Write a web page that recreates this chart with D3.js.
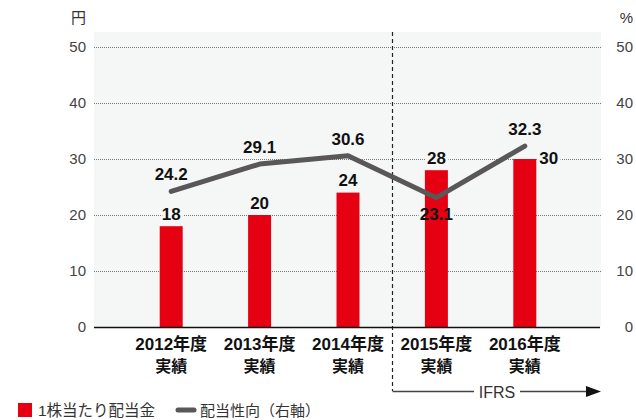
<!DOCTYPE html>
<html>
<head>
<meta charset="utf-8">
<script src="https://cdn.jsdelivr.net/npm/d3@7"></script>
<style>
  html, body { margin: 0; padding: 0; background: #fff; }
  svg { display: block; }
  text { font-family: "Liberation Sans", Arial, "Noto Sans CJK JP", sans-serif; }
</style>
</head>
<body>
<svg id="chart" width="636" height="420"></svg>
<script>
// Fiscal years (two-line labels) and values
const years = ["2012", "2013", "2014", "2015", "2016"];
const yearLine1 = ["2012年度", "2013年度", "2014年度", "2015年度", "2016年度"];
const yearLine2 = ["実績", "実績", "実績", "実績", "実績"];
const dividend = [18, 20, 24, 28, 30];            // 1株当たり配当金（円）
const payoutRatio = [24.2, 29.1, 30.6, 23.1, 32.3]; // 配当性向（%）
const payoutLabelSide = ["above", "above", "above", "below", "above"];
const dividendLabelSide = ["top", "top", "top", "top", "right"];
const yTicks = [0, 10, 20, 30, 40, 50];
const ifrsStart = "2015";

const RED = "#e50012";
const GRAY = "#595757";
const BG = "#f5f7f6";

const svg = d3.select("#chart");
const plot = { left: 94, right: 601, top: 32, bottom: 327 };

const x = d3.scaleBand().domain(years).range([127, 569]).paddingInner(0.74).paddingOuter(0.37);
const yL = d3.scaleLinear().domain([0, 50]).range([327, 47]);
const yR = d3.scaleLinear().domain([0, 50]).range([327, 47]);
const cx = d => x(d) + x.bandwidth() / 2;

// plot background
svg.append("rect")
  .attr("x", plot.left).attr("y", plot.top)
  .attr("width", plot.right - plot.left).attr("height", plot.bottom - plot.top)
  .attr("fill", BG);

// dotted gridlines
svg.append("g").selectAll("line").data(yTicks.filter(t => t > 0)).join("line")
  .attr("x1", plot.left).attr("x2", plot.right)
  .attr("y1", d => Math.round(yL(d)) + 0.5).attr("y2", d => Math.round(yL(d)) + 0.5)
  .attr("stroke", "#777").attr("stroke-width", 1).attr("stroke-dasharray", "1,1");

// left axis labels
const leftAxis = d3.axisLeft(yL).tickValues(yTicks).tickSize(0).tickPadding(0);
svg.append("g").attr("transform", "translate(86,0)").call(leftAxis)
  .call(g => g.select(".domain").remove())
  .call(g => g.selectAll("text").attr("font-size", 15).attr("fill", "#444")
    .attr("font-family", "Liberation Sans, Arial, sans-serif"));

// right axis labels (right aligned)
const rightAxis = d3.axisRight(yR).tickValues(yTicks).tickSize(0).tickPadding(0);
svg.append("g").attr("transform", "translate(633,0)").call(rightAxis)
  .call(g => g.select(".domain").remove())
  .call(g => g.selectAll("text").attr("font-size", 15).attr("fill", "#444")
    .attr("text-anchor", "end")
    .attr("font-family", "Liberation Sans, Arial, sans-serif"));

// unit labels
svg.append("text").attr("x", 86).attr("y", 23).attr("text-anchor", "end")
  .attr("font-size", 15).attr("fill", "#333").attr("font-family", "Noto Sans CJK JP, sans-serif").text("円");
svg.append("text").attr("x", 633).attr("y", 23).attr("text-anchor", "end")
  .attr("font-size", 15).attr("fill", "#333").text("%");

// IFRS divider, midway between the last pre-IFRS bar and the first IFRS bar
const prev = years[years.indexOf(ifrsStart) - 1];
const dx = Math.round((x(prev) + x.bandwidth() + x(ifrsStart)) / 2) + 0.5;
svg.append("line")
  .attr("x1", dx).attr("x2", dx).attr("y1", plot.top).attr("y2", 391)
  .attr("stroke", "#222").attr("stroke-width", 1.2).attr("stroke-dasharray", "4,3");

// value label positions
const divLabel = dividend.map((d, i) => ({
  text: String(d),
  x: dividendLabelSide[i] === "right" ? x(years[i]) + x.bandwidth() + 3 : cx(years[i]),
  y: dividendLabelSide[i] === "right" ? yL(d) + 5 : yL(d) - 6.5,
  anchor: dividendLabelSide[i] === "right" ? "start" : "middle"
}));
const ratioLabel = payoutRatio.map((d, i) => ({
  text: d.toFixed(1),
  x: cx(years[i]),
  y: payoutLabelSide[i] === "below" ? yR(d) + 22 : yR(d) - 11,
  anchor: "middle"
}));
const allLabels = divLabel.concat(ratioLabel);

// label knock-outs: hide gridlines behind the labels (drawn under the bars)
svg.append("g").selectAll("text").data(allLabels).join("text")
  .attr("x", d => d.x).attr("y", d => d.y).attr("text-anchor", d => d.anchor)
  .attr("font-size", 17).attr("font-weight", "bold")
  .attr("fill", BG).attr("stroke", BG).attr("stroke-width", 6).attr("stroke-linejoin", "round")
  .text(d => d.text);

// bars
svg.append("g").selectAll("rect").data(dividend).join("rect")
  .attr("x", (d, i) => x(years[i]))
  .attr("y", d => yL(d))
  .attr("width", x.bandwidth())
  .attr("height", d => yL(0) - yL(d))
  .attr("fill", RED);

// baseline
svg.append("line")
  .attr("x1", plot.left).attr("x2", plot.right - 1)
  .attr("y1", yL(0) + 0.5).attr("y2", yL(0) + 0.5)
  .attr("stroke", "#111").attr("stroke-width", 1.3);

// payout ratio line
const line = d3.line().x((d, i) => cx(years[i])).y(d => yR(d));
svg.append("path").datum(payoutRatio)
  .attr("d", line)
  .attr("fill", "none").attr("stroke", GRAY)
  .attr("stroke-width", 5).attr("stroke-linecap", "round").attr("stroke-linejoin", "round");

// value labels
svg.append("g").selectAll("text").data(allLabels).join("text")
  .attr("x", d => d.x).attr("y", d => d.y).attr("text-anchor", d => d.anchor)
  .attr("font-size", 17).attr("font-weight", "bold").attr("fill", "#111")
  .text(d => d.text);

// category labels
const cat = svg.append("g").selectAll("g").data(years).join("g");
cat.append("text")
  .attr("x", d => cx(d)).attr("y", 350)
  .attr("text-anchor", "middle").attr("font-size", 17).attr("font-weight", "bold").attr("fill", "#111")
  .text((d, i) => yearLine1[i]);
cat.append("text")
  .attr("x", d => cx(d)).attr("y", 372)
  .attr("text-anchor", "middle").attr("font-size", 16).attr("font-weight", "bold").attr("fill", "#111")
  .attr("font-family", "Noto Sans CJK JP, sans-serif")
  .text((d, i) => yearLine2[i]);

// IFRS arrow
const arrowY = 391.5;
svg.append("line").attr("x1", dx).attr("x2", 474).attr("y1", arrowY).attr("y2", arrowY)
  .attr("stroke", "#444").attr("stroke-width", 1.3);
svg.append("line").attr("x1", 520).attr("x2", 588).attr("y1", arrowY).attr("y2", arrowY)
  .attr("stroke", "#444").attr("stroke-width", 1.3);
svg.append("path")
  .attr("d", `M586,${arrowY - 5.5}L601,${arrowY}L586,${arrowY + 5.5}Z`)
  .attr("fill", "#111");
svg.append("text").attr("x", 497).attr("y", arrowY + 6)
  .attr("text-anchor", "middle").attr("font-size", 16).attr("fill", "#333").text("IFRS");

// legend
svg.append("rect").attr("x", 18).attr("y", 403).attr("width", 14).attr("height", 14).attr("fill", RED);
svg.append("text").attr("x", 38).attr("y", 416).attr("font-size", 15.5).attr("fill", "#333")
  .attr("font-family", "Noto Sans CJK JP, sans-serif").text("1株当たり配当金");
svg.append("line").attr("x1", 178).attr("x2", 194).attr("y1", 410).attr("y2", 410)
  .attr("stroke", GRAY).attr("stroke-width", 5).attr("stroke-linecap", "round");
svg.append("text").attr("x", 200).attr("y", 416).attr("font-size", 15).attr("fill", "#333")
  .attr("font-family", "Noto Sans CJK JP, sans-serif").text("配当性向（右軸）");
</script>
</body>
</html>
